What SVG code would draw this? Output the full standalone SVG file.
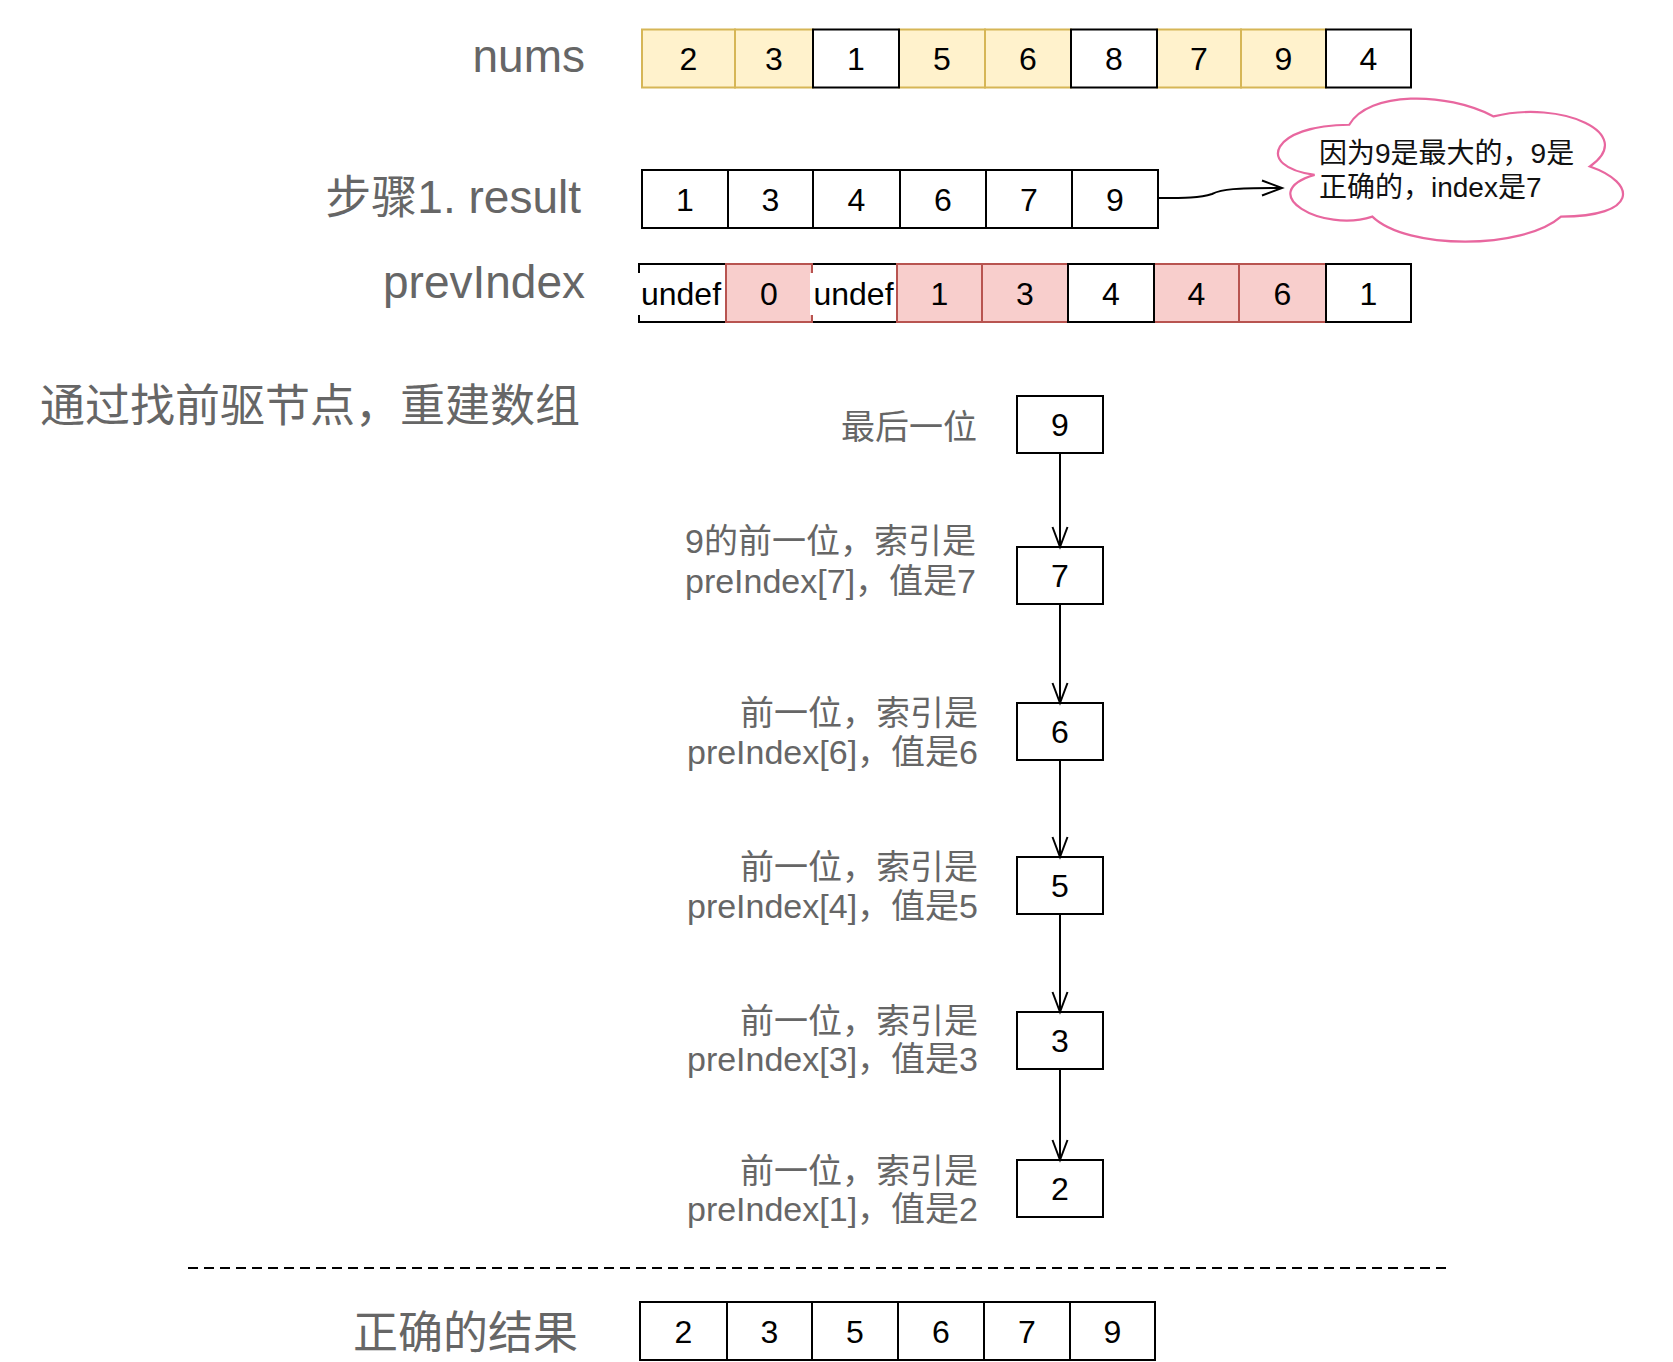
<svg xmlns="http://www.w3.org/2000/svg" width="1673" height="1362" viewBox="0 0 1673 1362">
<style>
.w{fill:#fff;stroke:#000;stroke-width:2}
.y{fill:#fff2cc;stroke:#d6b656;stroke-width:2}
.p{fill:#f8cecc;stroke:#b85450;stroke-width:2}
.d{font-family:"Liberation Sans",Arial,sans-serif;font-size:32px;text-anchor:middle;fill:#000}
.lbl{font-family:"Liberation Sans","Noto Sans CJK SC",sans-serif;fill:#666;text-anchor:end}
.big{font-size:46px}
.cjk{font-size:45px}
.note{font-size:34px}
.cl{font-family:"Liberation Sans","Noto Sans CJK SC",sans-serif;font-size:28px;fill:#111}
.c{fill:none;stroke:#000;stroke-width:2}
</style>
<defs>
<marker id="open" markerUnits="userSpaceOnUse" markerWidth="26" markerHeight="20" viewBox="0 0 26 20" refX="22" refY="10" orient="auto">
<path d="M2,2.5 L22,10 L2,17.5" fill="none" stroke="#000" stroke-width="2"/>
</marker>
</defs>
<rect width="1673" height="1362" fill="#fff"/>

<g id="labels">
<text class="lbl big" x="585" y="72">nums</text>
<text class="lbl big" x="581" y="213">步骤1. result</text>
<text class="lbl big" x="585" y="298">prevIndex</text>
<text class="lbl cjk" x="580" y="422">通过找前驱节点，重建数组</text>
<text class="lbl cjk" x="578" y="1349">正确的结果</text>
</g>

<g id="nums">
<g id="nums-0"><rect class="y" x="642" y="29.5" width="93" height="58"/><text class="d" x="688.5" y="70">2</text></g>
<g id="nums-1"><rect class="y" x="735" y="29.5" width="78" height="58"/><text class="d" x="774" y="70">3</text></g>
<g id="nums-3"><rect class="y" x="899" y="29.5" width="86" height="58"/><text class="d" x="942" y="70">5</text></g>
<g id="nums-4"><rect class="y" x="985" y="29.5" width="86" height="58"/><text class="d" x="1028" y="70">6</text></g>
<g id="nums-6"><rect class="y" x="1157" y="29.5" width="84" height="58"/><text class="d" x="1199" y="70">7</text></g>
<g id="nums-7"><rect class="y" x="1241" y="29.5" width="85" height="58"/><text class="d" x="1283.5" y="70">9</text></g>
<g id="nums-2"><rect class="w" x="813" y="29.5" width="86" height="58"/><text class="d" x="856" y="70">1</text></g>
<g id="nums-5"><rect class="w" x="1071" y="29.5" width="86" height="58"/><text class="d" x="1114" y="70">8</text></g>
<g id="nums-8"><rect class="w" x="1326" y="29.5" width="85" height="58"/><text class="d" x="1368.5" y="70">4</text></g>
</g>

<g id="result">
<g id="result-0"><rect class="w" x="642" y="170" width="86" height="58"/><text class="d" x="685" y="210.5">1</text></g>
<g id="result-1"><rect class="w" x="728" y="170" width="85" height="58"/><text class="d" x="770.5" y="210.5">3</text></g>
<g id="result-2"><rect class="w" x="813" y="170" width="87" height="58"/><text class="d" x="856.5" y="210.5">4</text></g>
<g id="result-3"><rect class="w" x="900" y="170" width="86" height="58"/><text class="d" x="943" y="210.5">6</text></g>
<g id="result-4"><rect class="w" x="986" y="170" width="86" height="58"/><text class="d" x="1029" y="210.5">7</text></g>
<g id="result-5"><rect class="w" x="1072" y="170" width="86" height="58"/><text class="d" x="1115" y="210.5">9</text></g>
</g>

<g id="cloud">
<path d="M1349.25 124.75 C1272.25 124.75 1253 166.5 1314.6 174.85 C1253 193.2 1322.3 233.3 1372.35 216.6 C1407 250 1522.5 250 1561 216.6 C1638 216.6 1638 183.2 1589.9 166.5 C1638 133.1 1561 99.7 1493.6 116.4 C1445.5 91.35 1368.5 91.35 1349.25 124.75 Z" fill="#fff" stroke="#e8679f" stroke-width="2.2"/>
<text class="cl" x="1319" y="163">因为9是最大的，9是</text>
<text class="cl" x="1319" y="197">正确的，index是7</text>
</g>

<g id="prevIndex">
<g id="prev-0"><rect class="w" x="639" y="264" width="87" height="58"/></g>
<g id="prev-2"><rect class="w" x="812" y="264" width="85" height="58"/></g>
<g id="prev-1"><rect class="p" x="726" y="264" width="86" height="58"/><text class="d" x="769" y="304.5">0</text></g>
<g id="prev-3"><rect class="p" x="897" y="264" width="85" height="58"/><text class="d" x="939.5" y="304.5">1</text></g>
<g id="prev-4"><rect class="p" x="982" y="264" width="86" height="58"/><text class="d" x="1025" y="304.5">3</text></g>
<g id="prev-6"><rect class="p" x="1154" y="264" width="85" height="58"/><text class="d" x="1196.5" y="304.5">4</text></g>
<g id="prev-7"><rect class="p" x="1239" y="264" width="87" height="58"/><text class="d" x="1282.5" y="304.5">6</text></g>
<g id="prev-5"><rect class="w" x="1068" y="264" width="86" height="58"/><text class="d" x="1111" y="304.5">4</text></g>
<g id="prev-8"><rect class="w" x="1326" y="264" width="85" height="58"/><text class="d" x="1368.5" y="304.5">1</text></g>
<g id="prev-0-label"><rect x="637" y="273" width="87" height="42" fill="#fff"/><text class="d" x="681" y="304.5">undef</text></g>
<g id="prev-2-label"><rect x="810" y="273" width="85" height="42" fill="#fff"/><text class="d" x="853.5" y="304.5">undef</text></g>
</g>

<g id="chain">
<g id="n9"><rect class="w" x="1017" y="396" width="86" height="57"/><text class="d" x="1060" y="436">9</text>
<text class="lbl note" x="977" y="439">最后一位</text></g>
<g id="n7"><rect class="w" x="1017" y="547" width="86" height="57"/><text class="d" x="1060" y="587">7</text>
<text class="lbl note" x="976" y="553">9的前一位，索引是</text><text class="lbl note" x="976" y="593">preIndex[7]，值是7</text></g>
<g id="n6"><rect class="w" x="1017" y="703" width="86" height="57"/><text class="d" x="1060" y="743">6</text>
<text class="lbl note" x="978" y="725">前一位，索引是</text><text class="lbl note" x="978" y="764">preIndex[6]，值是6</text></g>
<g id="n5"><rect class="w" x="1017" y="857" width="86" height="57"/><text class="d" x="1060" y="897">5</text>
<text class="lbl note" x="978" y="879">前一位，索引是</text><text class="lbl note" x="978" y="918">preIndex[4]，值是5</text></g>
<g id="n3"><rect class="w" x="1017" y="1012" width="86" height="57"/><text class="d" x="1060" y="1052">3</text>
<text class="lbl note" x="978" y="1033">前一位，索引是</text><text class="lbl note" x="978" y="1071">preIndex[3]，值是3</text></g>
<g id="n2"><rect class="w" x="1017" y="1160" width="86" height="57"/><text class="d" x="1060" y="1200">2</text>
<text class="lbl note" x="978" y="1183">前一位，索引是</text><text class="lbl note" x="978" y="1221">preIndex[1]，值是2</text></g>
</g>

<g id="final">
<g id="final-0"><rect class="w" x="640" y="1302" width="87" height="58"/><text class="d" x="683.5" y="1342.5">2</text></g>
<g id="final-1"><rect class="w" x="727" y="1302" width="85" height="58"/><text class="d" x="769.5" y="1342.5">3</text></g>
<g id="final-2"><rect class="w" x="812" y="1302" width="86" height="58"/><text class="d" x="855" y="1342.5">5</text></g>
<g id="final-3"><rect class="w" x="898" y="1302" width="86" height="58"/><text class="d" x="941" y="1342.5">6</text></g>
<g id="final-4"><rect class="w" x="984" y="1302" width="86" height="58"/><text class="d" x="1027" y="1342.5">7</text></g>
<g id="final-5"><rect class="w" x="1070" y="1302" width="85" height="58"/><text class="d" x="1112.5" y="1342.5">9</text></g>
</g>

<g id="connectors">
<path class="c" d="M1158 198 C1185 198 1200 198 1212 194 C1222 189 1235 188 1282 188" marker-end="url(#open)"/>
<path class="c" d="M1060 453 L1060 547" marker-end="url(#open)"/>
<path class="c" d="M1060 604 L1060 703" marker-end="url(#open)"/>
<path class="c" d="M1060 760 L1060 857" marker-end="url(#open)"/>
<path class="c" d="M1060 914 L1060 1012" marker-end="url(#open)"/>
<path class="c" d="M1060 1069 L1060 1160" marker-end="url(#open)"/>
<line x1="188" y1="1268" x2="1447" y2="1268" stroke="#000" stroke-width="2" stroke-dasharray="10 6"/>
</g>
</svg>
